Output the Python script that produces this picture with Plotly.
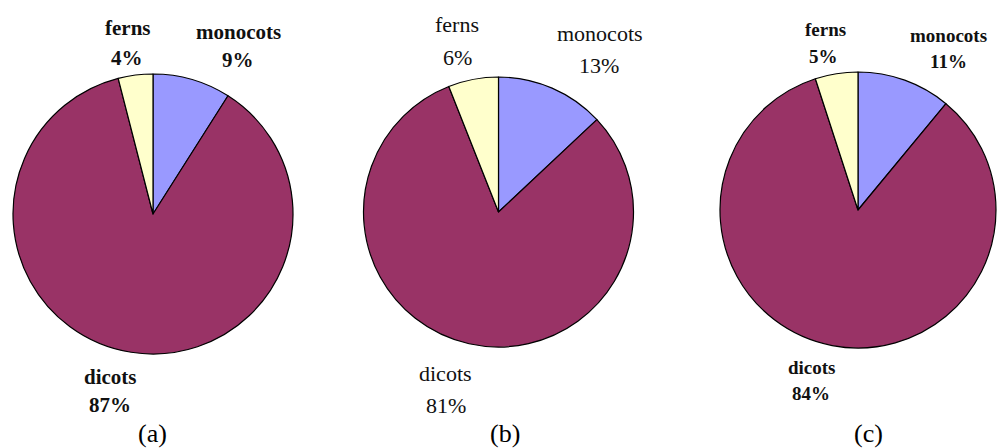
import plotly.graph_objects as go

W, H = 1003, 448

# ---- data ----
categories = ["monocots", "dicots", "ferns"]
values_a = [9, 87, 4]
values_b = [13, 81, 6]
values_c = [11, 84, 5]
panel_labels = ["(a)", "(b)", "(c)"]
colors = ["#9999FF", "#993366", "#FFFFCC"]

# ---- layout (pixel geometry) ----
pie_geom = [(153, 214, 140), (498.5, 212, 135), (858, 210, 138)]  # cx, cy, r
font_sizes = [21, 22, 19]
bold = [True, False, True]
# label positions per panel: (name line center, pct line center) per category
label_pos = [
    {"monocots": ((238, 32), (238, 60)), "dicots": ((110, 377), (110, 405)), "ferns": ((128, 28), (127, 58))},
    {"monocots": ((600, 33), (599, 65)), "dicots": ((445, 373), (446, 405)), "ferns": ((457, 25), (457, 58))},
    {"monocots": ((948, 35), (948, 61)), "dicots": ((812, 367), (811, 393)), "ferns": ((825, 29), (823, 56))},
]
caption_pos = [(152, 433), (505, 433), (868, 433)]
SERIF = "Liberation Serif, Times New Roman, serif"

fig = go.Figure()
annotations = []
for i, vals in enumerate([values_a, values_b, values_c]):
    cx, cy, r = pie_geom[i]
    fig.add_trace(go.Pie(
        labels=categories, values=vals,
        sort=False, direction="clockwise", rotation=0,
        marker=dict(colors=colors, line=dict(color="black", width=1.2)),
        textinfo="none", hoverinfo="label+percent", showlegend=False,
        domain=dict(x=[(cx - r) / W, (cx + r) / W], y=[1 - (cy + r) / H, 1 - (cy - r) / H]),
    ))
    total = sum(vals)
    for cat, v in zip(categories, vals):
        (x1, y1), (x2, y2) = label_pos[i][cat]
        for txt, (x, y) in ((cat, (x1, y1)), (f"{round(100 * v / total)}%", (x2, y2))):
            annotations.append(dict(
                x=x / W, y=1 - y / H, xref="paper", yref="paper",
                xanchor="center", yanchor="middle", showarrow=False,
                text=f"<b>{txt}</b>" if bold[i] else txt,
                font=dict(family=SERIF, size=font_sizes[i], color="#111111"),
            ))
    x, y = caption_pos[i]
    annotations.append(dict(
        x=x / W, y=1 - y / H, xref="paper", yref="paper",
        xanchor="center", yanchor="middle", showarrow=False,
        text=panel_labels[i], font=dict(family=SERIF, size=26, color="black"),
    ))

fig.update_layout(
    width=W, height=H, margin=dict(l=0, r=0, t=0, b=0),
    paper_bgcolor="white", plot_bgcolor="white",
    annotations=annotations,
)
fig.write_html("out.html")
